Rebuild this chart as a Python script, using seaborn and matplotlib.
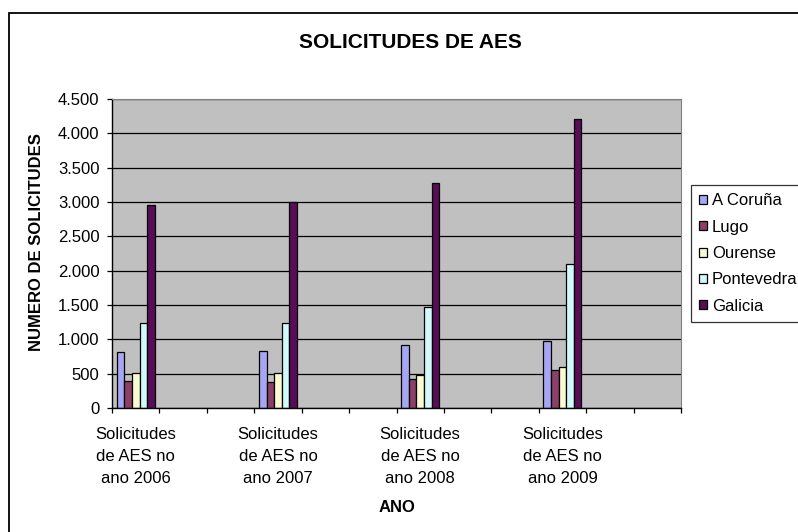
import matplotlib
matplotlib.use("Agg")
import matplotlib.pyplot as plt
import matplotlib.ticker as mticker
from matplotlib.patches import Rectangle
import pandas as pd
import seaborn as sns

YEARS = ["2006", "2007", "2008", "2009"]
PROVINCES = ["A Coruña", "Lugo", "Ourense", "Pontevedra", "Galicia"]
A_CORUNA = [815, 834, 912, 970]
LUGO = [398, 378, 417, 548]
OURENSE = [514, 514, 476, 592]
PONTEVEDRA = [1242, 1244, 1465, 2096]
GALICIA = [2960, 3000, 3280, 4202]
COLORS = ["#9999FF", "#993366", "#FFFFCC", "#CCFFFF", "#660066"]

plt.rcParams["font.family"] = ["Liberation Sans", "DejaVu Sans"]

labels = [f"Solicitudes\nde AES no\nano {y}" for y in YEARS]
values = [A_CORUNA, LUGO, OURENSE, PONTEVEDRA, GALICIA]
rows = []
for prov, vals in zip(PROVINCES, values):
    for lab, v in zip(labels, vals):
        rows.append({"cat": lab, "prov": prov, "n": v})
df = pd.DataFrame(rows)

# Excel sheet had two empty categories after every year
order = []
for i, lab in enumerate(labels):
    order += [lab, f"_blank{i}a", f"_blank{i}b"]

fig = plt.figure(figsize=(7.98, 5.32), dpi=100)
ax = fig.add_axes([112 / 798, 1 - 408 / 532, 569 / 798, 309 / 532])
ax.set_facecolor("#C0C0C0")

sns.barplot(
    data=df, x="cat", y="n", hue="prov", order=order, hue_order=PROVINCES,
    palette=dict(zip(PROVINCES, COLORS)), width=0.8, gap=0,
    edgecolor="black", linewidth=0.9, ax=ax, legend=True,
)

ax.set_xlim(-0.5, len(order) - 0.5)
ax.set_ylim(0, 4500)
ax.set_yticks(range(0, 4501, 500))
ax.yaxis.set_major_formatter(mticker.FuncFormatter(lambda v, p: f"{int(v):,}".replace(",", ".")))
ax.yaxis.grid(True, color="black", linewidth=0.9)
ax.set_axisbelow(True)

ax.set_xticks([i - 0.5 for i in range(len(order) + 1)])
ax.set_xticklabels([])
ax.set_xticks([order.index(l) for l in labels], minor=True)
ax.set_xticklabels(labels, minor=True, fontsize=12, linespacing=1.55)
ax.tick_params(axis="x", which="major", length=3.6, width=0.9, direction="out")
ax.tick_params(axis="x", which="minor", length=0, pad=14)
ax.tick_params(axis="y", length=3.6, width=0.9, labelsize=12, pad=5.5)

for s in ["top", "right"]:
    ax.spines[s].set_color("#808080")
for s in ["left", "bottom"]:
    ax.spines[s].set_color("black")
    ax.spines[s].set_linewidth(1.0)

ax.set_xlabel("")
ax.set_ylabel("")
fig.text(397 / 798, 1 - 508 / 532, "ANO", ha="center", va="center", fontsize=12, fontweight="bold")
fig.text(37 / 798, 1 - 242 / 532, "NUMERO DE SOLICITUDES", ha="center", va="center",
         rotation=90, fontsize=12, fontweight="bold")
fig.text(410 / 798, 1 - 43 / 532, "SOLICITUDES DE AES", ha="center", va="center",
         fontsize=15, fontweight="bold")

handles, _ = ax.get_legend_handles_labels()
leg = ax.legend(handles, PROVINCES, loc="upper left", bbox_to_anchor=(691 / 798, 1 - 185 / 532),
                bbox_transform=fig.transFigure, fontsize=12, frameon=True, fancybox=False,
                edgecolor="black", handlelength=0.45, handleheight=0.45, handletextpad=0.3,
                labelspacing=0.68, borderpad=0.5, borderaxespad=0)
leg.get_frame().set_linewidth(0.9)

fig.patches.append(Rectangle((9 / 798, -0.1), 1.2, 1 - 13 / 532 + 0.1, transform=fig.transFigure,
                             fill=False, edgecolor="black", linewidth=1.3))

fig.savefig("out.png", dpi=100)
